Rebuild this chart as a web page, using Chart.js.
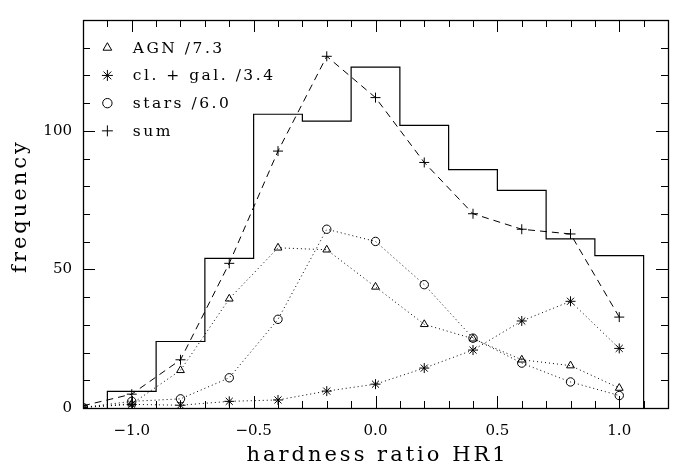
<!DOCTYPE html>
<html lang="en">
<head>
<meta charset="UTF-8">
<title>hardness ratio HR1</title>
<script src="https://cdn.jsdelivr.net/npm/chart.js"></script>
<style>
  body { margin: 0; background: #fff; }
  #wrap { width: 674px; height: 472px; }
</style>
</head>
<body>
<div id="wrap"><canvas id="hrChart" width="674" height="472"></canvas></div>
<script>
// model curves, sampled on the HR1 grid
const hrValues    = [-1.2, -1.0, -0.8, -0.6, -0.4, -0.2, 0.0, 0.2, 0.4, 0.6, 0.8, 1.0];
const agnCounts   = [0.3, 1.5, 13.6, 39.4, 57.8, 57.1, 43.7, 30.2, 25.0, 17.4, 15.3, 7.2];
const clGalCounts = [0.2, 1.3, 1.0, 2.4, 2.9, 6.1, 8.6, 14.4, 20.9, 31.4, 38.5, 21.5];
const starCounts  = [0.2, 2.4, 3.3, 10.9, 32.0, 64.5, 60.1, 44.5, 25.2, 16.2, 9.4, 4.5];
const sumCounts   = [0.8, 5.0, 17.4, 52.2, 92.7, 126.9, 112.0, 88.6, 70.1, 64.5, 62.8, 32.8];

// observed histogram
const binEdges  = [-1.1, -0.9, -0.7, -0.5, -0.3, -0.1, 0.1, 0.3, 0.5, 0.7, 0.9, 1.1];
const binCounts = [6, 24, 54, 106, 103.5, 123, 102, 86, 78.5, 61, 55];

const xTickValues = [-1.0, -0.5, 0.0, 0.5, 1.0];
const yTickValues = [0, 50, 100];

const legendNames = ['AGN /7.3', 'cl. + gal. /3.4', 'stars /6.0', 'sum'];
const legendRows  = [130, 120, 110, 100];

const SERIF = '"DejaVu Serif", "Liberation Serif", serif';

const toPoints = (xs, ys) => xs.map((x, i) => ({ x: x, y: ys[i] }));

function histPoints() {
  const pts = [{ x: binEdges[0], y: 0 }];
  binCounts.forEach((c, i) => pts.push({ x: binEdges[i], y: c }));
  pts.push({ x: binEdges[binEdges.length - 1], y: 0 });
  return pts;
}

function modelSet(label, values, style, radius, dash) {
  return {
    label: label,
    data: toPoints(hrValues, values),
    borderColor: '#000',
    borderWidth: 1,
    borderDash: dash,
    pointStyle: style,
    pointRadius: radius,
    pointBorderColor: '#000',
    pointBackgroundColor: 'rgba(0,0,0,0)',
    pointBorderWidth: 1,
    tension: 0,
    fill: false
  };
}

// frame, inward ticks on all four sides, axis titles and the legend
const decorations = {
  id: 'decorations',
  afterDatasetsDraw(chart) {
    const { ctx, chartArea: a, scales: { x, y } } = chart;
    const px = v => Math.round(x.getPixelForValue(v)) + 0.5;
    const py = v => Math.round(y.getPixelForValue(v)) + 0.5;
    ctx.save();
    ctx.strokeStyle = '#000';
    ctx.lineWidth = 1;
    ctx.beginPath();
    for (let i = -12; i <= 12; i++) {
      const xp = px(i / 10);
      const len = i % 5 === 0 ? 12 : 7;
      ctx.moveTo(xp, a.bottom); ctx.lineTo(xp, a.bottom - len);
      ctx.moveTo(xp, a.top); ctx.lineTo(xp, a.top + len);
    }
    for (let v = 0; v <= 140; v += 10) {
      const yp = py(v);
      const len = v % 50 === 0 ? 12 : 7;
      ctx.moveTo(a.left, yp); ctx.lineTo(a.left + len, yp);
      ctx.moveTo(a.right, yp); ctx.lineTo(a.right - len, yp);
    }
    ctx.stroke();
    ctx.lineWidth = 1.3;
    ctx.strokeRect(Math.round(a.left) + 0.5, Math.round(a.top) + 0.5,
                   Math.round(a.right - a.left), Math.round(a.bottom - a.top));

    // legend
    const styles = chart.data.datasets.slice(0, 4);
    ctx.fillStyle = '#000';
    ctx.lineWidth = 1;
    legendNames.forEach((name, i) => {
      const ds = styles[i];
      const cy = y.getPixelForValue(legendRows[i]);
      ctx.save();
      ctx.fillStyle = 'rgba(0,0,0,0)';
      Chart.helpers.drawPoint(ctx, {
        pointStyle: ds.pointStyle, radius: ds.pointRadius + 0.5, rotation: 0, borderWidth: 1
      }, x.getPixelForValue(-1.1), cy);
      ctx.restore();
      ctx.font = '15.5px ' + SERIF;
      ctx.letterSpacing = '2.5px';
      ctx.textAlign = 'left';
      ctx.textBaseline = 'middle';
      ctx.fillText(name, x.getPixelForValue(-1.0) + 1, cy + 1);
    });

    // axis titles
    ctx.font = '21px ' + SERIF;
    ctx.letterSpacing = '3px';
    ctx.textAlign = 'center';
    ctx.textBaseline = 'middle';
    ctx.fillText('hardness ratio HR1', (a.left + a.right) / 2 + 2, 456);
    ctx.translate(21, (a.top + a.bottom) / 2);
    ctx.rotate(-Math.PI / 2);
    ctx.fillText('frequency', 8, 0);
    ctx.restore();
  }
};

const fmt = v => (v < 0 ? '\u2212' : '') + Math.abs(v).toFixed(1);

new Chart(document.getElementById('hrChart'), {
  type: 'line',
  data: {
    datasets: [
      modelSet('AGN /7.3', agnCounts, 'triangle', 4.5, [1, 3]),
      modelSet('cl. + gal. /3.4', clGalCounts, 'star', 5, [1, 3]),
      modelSet('stars /6.0', starCounts, 'circle', 4.2, [1, 3]),
      modelSet('sum', sumCounts, 'cross', 5, [7, 5]),
      {
        label: 'histogram',
        data: histPoints(),
        borderColor: '#000',
        borderWidth: 1.2,
        stepped: 'before',
        pointRadius: 0,
        fill: false
      }
    ]
  },
  options: {
    responsive: false,
    animation: false,
    layout: { padding: { top: 8, right: 5, left: 0, bottom: 0 } },
    plugins: { legend: { display: false }, tooltip: { enabled: false } },
    scales: {
      x: {
        type: 'linear',
        min: -1.2,
        max: 1.2,
        grid: { display: false, drawTicks: false },
        border: { display: false },
        afterBuildTicks: s => { s.ticks = xTickValues.map(v => ({ value: v })); },
        afterFit: s => { s.height = 64; },
        ticks: {
          color: '#000',
          padding: 14,
          maxRotation: 0,
          font: { family: SERIF, size: 15 },
          callback: v => fmt(v)
        }
      },
      y: {
        type: 'linear',
        min: 0,
        max: 140,
        grid: { display: false, drawTicks: false },
        border: { display: false },
        afterBuildTicks: s => { s.ticks = yTickValues.map(v => ({ value: v })); },
        afterFit: s => { s.width = 83; },
        ticks: {
          color: '#000',
          padding: 11,
          font: { family: SERIF, size: 15 },
          callback: v => String(v)
        }
      }
    }
  },
  plugins: [decorations]
});
</script>
</body>
</html>
